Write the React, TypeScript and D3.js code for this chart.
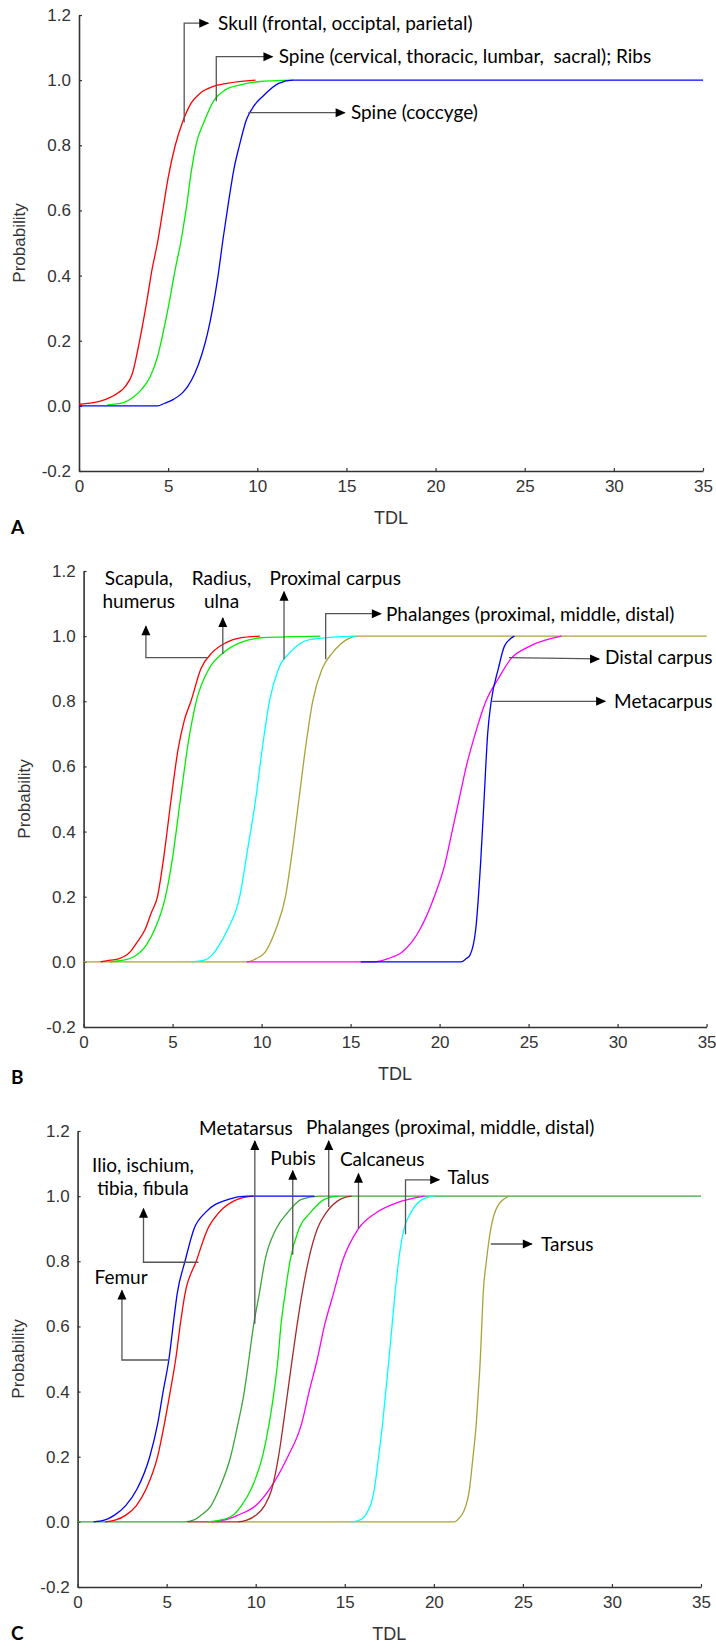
import React, { useRef, useEffect } from 'react';
import * as d3 from 'd3';

type Pt = [number, number];

// ---- Panel A (axial skeleton) ----
const skullA: Pt[] = [[0,0.005],[0.8,0.01],[1.5,0.02],[2.2,0.04],[2.6,0.06],[3.0,0.1],[3.4,0.2],[3.8,0.32],[4.1,0.42],[4.4,0.5],[4.7,0.6],[5.0,0.7],[5.4,0.8],[5.8,0.87],[6.3,0.93],[6.8,0.96],[7.5,0.98],[8.3,0.99],[9.9,1.0]];
const spineA: Pt[] = [[1.6,0.003],[2.5,0.01],[3.0,0.025],[3.5,0.05],[4.0,0.09],[4.4,0.15],[4.7,0.22],[5.0,0.3],[5.4,0.42],[5.7,0.5],[6.0,0.6],[6.3,0.72],[6.6,0.81],[7.0,0.87],[7.6,0.94],[8.2,0.97],[9.0,0.985],[10.0,0.995],[12.0,1.0]];
const coccyxA: Pt[] = [[0,0],[4.4,0],[4.8,0.008],[5.3,0.02],[5.8,0.04],[6.1,0.06],[6.5,0.1],[6.9,0.16],[7.2,0.22],[7.5,0.3],[7.8,0.4],[8.1,0.52],[8.4,0.63],[8.7,0.73],[9.0,0.8],[9.4,0.88],[9.8,0.92],[10.3,0.95],[11.2,0.99],[12.0,1.0],[35,1.0]];

// ---- Panel B (fore limb) ----
const scapulaB: Pt[] = [[0.95,0],[1.5,0.005],[2,0.01],[2.6,0.03],[3.0,0.06],[3.46,0.1],[3.8,0.15],[4.15,0.2],[4.5,0.32],[4.92,0.5],[5.3,0.65],[5.65,0.74],[6.03,0.8],[6.59,0.9],[7.23,0.95],[8.0,0.98],[8.8,0.995],[9.9,1.0]];
const radiusB: Pt[] = [[1.5,0],[2.2,0.005],[2.8,0.015],[3.5,0.05],[4.0,0.1],[4.6,0.2],[5.0,0.32],[5.44,0.5],[5.9,0.68],[6.33,0.8],[7.05,0.9],[7.87,0.95],[8.8,0.98],[10,0.995],[13.3,1.0]];
const proxCarpusB: Pt[] = [[6.08,0],[6.8,0.005],[7.2,0.02],[7.6,0.05],[8.1,0.1],[8.77,0.2],[9.2,0.34],[9.67,0.5],[10.05,0.66],[10.44,0.8],[10.95,0.9],[11.6,0.95],[12.75,0.99],[15.3,1.0]];
const phalangesB: Pt[] = [[0,0],[9.16,0],[9.7,0.01],[10.2,0.03],[10.8,0.1],[11.34,0.2],[11.7,0.33],[12.1,0.5],[12.5,0.67],[12.87,0.8],[13.4,0.9],[14.0,0.95],[14.8,0.99],[15.4,1.0],[35,1.0]];
const distalCarpusB: Pt[] = [[9.16,0],[16.3,0],[17.1,0.01],[17.9,0.03],[18.9,0.1],[19.7,0.2],[20.3,0.3],[20.7,0.4],[21.1,0.5],[21.5,0.6],[22.0,0.7],[22.6,0.8],[23.3,0.87],[24.0,0.93],[25.1,0.97],[26.85,1.0]];
const metacarpusB: Pt[] = [[15.57,0],[21.2,0],[21.5,0.01],[21.7,0.02],[22.03,0.1],[22.3,0.3],[22.5,0.5],[22.7,0.7],[22.9,0.8],[23.3,0.9],[23.65,0.97],[24.2,1.0]];

// ---- Panel C (hind limb / pelvis) ----
const metatarsusC: Pt[] = [[0,0],[6.02,0],[6.5,0.005],[6.92,0.02],[7.5,0.05],[7.94,0.1],[8.59,0.2],[9.0,0.3],[9.36,0.4],[9.62,0.5],[9.87,0.6],[10.2,0.7],[10.51,0.8],[11.15,0.9],[11.8,0.95],[12.57,0.99],[13.59,1.0],[35,1.0]];
const femurC: Pt[] = [[0.9,0],[1.5,0.005],[2.05,0.02],[2.7,0.05],[3.33,0.1],[4.05,0.2],[4.49,0.3],[4.8,0.4],[5.13,0.5],[5.4,0.62],[5.59,0.7],[6.03,0.8],[6.54,0.9],[7.18,0.95],[8.46,0.99],[9.49,1.0],[13.3,1.0]];
const ilioC: Pt[] = [[1.54,0],[2.1,0.005],[2.69,0.02],[3.3,0.05],[3.84,0.1],[4.49,0.2],[4.87,0.3],[5.2,0.4],[5.51,0.5],[5.8,0.62],[6.03,0.7],[6.66,0.8],[7.31,0.9],[7.94,0.95],[8.97,0.99],[9.87,1.0]];
const pubisC: Pt[] = [[7.31,0],[8.0,0.005],[8.72,0.02],[9.2,0.05],[9.74,0.1],[10.38,0.2],[10.75,0.3],[11.03,0.4],[11.25,0.5],[11.41,0.6],[11.65,0.7],[11.92,0.8],[12.43,0.9],[13.08,0.95],[13.85,0.99],[14.61,1.0]];
const phalangesC: Pt[] = [[6.15,0],[9.0,0],[9.5,0.005],[10.0,0.02],[10.5,0.05],[10.9,0.1],[11.28,0.2],[11.55,0.3],[11.8,0.4],[12.05,0.5],[12.31,0.6],[12.6,0.7],[12.95,0.8],[13.46,0.9],[13.97,0.95],[14.74,0.99],[15.38,1.0]];
const calcaneusC: Pt[] = [[7.5,0],[8.2,0.005],[8.97,0.02],[10.0,0.05],[10.77,0.1],[11.8,0.2],[12.57,0.3],[13.0,0.4],[13.46,0.5],[13.85,0.6],[14.36,0.7],[14.87,0.8],[15.77,0.9],[16.79,0.95],[17.95,0.98],[19.48,1.0]];
const talusC: Pt[] = [[15.38,0],[15.8,0.005],[16.15,0.02],[16.66,0.1],[16.9,0.2],[17.12,0.3],[17.3,0.4],[17.48,0.5],[17.65,0.6],[17.82,0.7],[18.02,0.8],[18.33,0.9],[18.72,0.95],[19.36,0.99],[20.0,1.0]];
const tarsusC: Pt[] = [[9.0,0],[21.15,0],[21.4,0.01],[21.66,0.03],[22.0,0.1],[22.2,0.2],[22.38,0.3],[22.5,0.4],[22.61,0.5],[22.69,0.6],[22.77,0.7],[22.95,0.8],[23.2,0.9],[23.59,0.97],[24.22,1.0]];

const xTicks = [0, 5, 10, 15, 20, 25, 30, 35];
const yTicks = [-0.2, 0, 0.2, 0.4, 0.6, 0.8, 1.0, 1.2];

interface Series { data: Pt[]; color: string }
interface Note {
  lines: string[];
  at: Pt;            // text position (data units), first line
  anchor: 'start' | 'middle';
  path: Pt[];        // leader line, last point is the arrow tip
}

const panels: {
  letter: string; top: number; left: number; right: number; letterDy: number;
  series: Series[]; notes: Note[];
}[] = [
  {
    letter: 'A', top: 15, left: 79, right: 703, letterDy: 56,
    series: [
      { data: skullA, color: '#ff0000' },
      { data: spineA, color: '#00ee00' },
      { data: coccyxA, color: '#0000ff' },
    ],
    notes: [
      { lines: ['Skull (frontal, occiptal, parietal)'], at: [7.8, 1.175], anchor: 'start', path: [[5.9, 0.87], [5.9, 1.175], [7.25, 1.175]] },
      { lines: ['Spine (cervical, thoracic, lumbar,  sacral); Ribs'], at: [11.2, 1.072], anchor: 'start', path: [[7.7, 0.935], [7.7, 1.072], [10.85, 1.072]] },
      { lines: ['Spine (coccyge)'], at: [15.25, 0.9], anchor: 'start', path: [[9.5, 0.9], [14.9, 0.9]] },
    ],
  },
  {
    letter: 'B', top: 571, left: 83.6, right: 706.6, letterDy: 50,
    series: [
      { data: phalangesB, color: '#aaa238' },
      { data: scapulaB, color: '#ff0000' },
      { data: radiusB, color: '#00ee00' },
      { data: proxCarpusB, color: '#00ffff' },
      { data: distalCarpusB, color: '#ff00ff' },
      { data: metacarpusB, color: '#0000ff' },
    ],
    notes: [
      { lines: ['Scapula,', 'humerus'], at: [3.1, 1.177], anchor: 'middle', path: [[6.98, 0.934], [3.5, 0.934], [3.5, 1.03]] },
      { lines: ['Radius,', 'ulna'], at: [7.75, 1.177], anchor: 'middle', path: [[7.82, 0.945], [7.82, 1.056]] },
      { lines: ['Proximal carpus'], at: [10.44, 1.177], anchor: 'start', path: [[11.26, 0.929], [11.26, 1.136]] },
      { lines: ['Phalanges (proximal, middle, distal)'], at: [16.99, 1.068], anchor: 'start', path: [[13.6, 0.929], [13.6, 1.069], [16.7, 1.069]] },
      { lines: ['Distal carpus'], at: [29.29, 0.935], anchor: 'start', path: [[23.9, 0.934], [28.96, 0.93]] },
      { lines: ['Metacarpus'], at: [29.8, 0.8], anchor: 'start', path: [[22.95, 0.8], [29.3, 0.8]] },
    ],
  },
  {
    letter: 'C', top: 1131, left: 77.6, right: 701, letterDy: 46,
    series: [
      { data: metatarsusC, color: '#3aa53a' },
      { data: tarsusC, color: '#aaa238' },
      { data: calcaneusC, color: '#ff00ff' },
      { data: phalangesC, color: '#a52a2a' },
      { data: pubisC, color: '#00ee00' },
      { data: talusC, color: '#00ffff' },
      { data: ilioC, color: '#ff0000' },
      { data: femurC, color: '#0000ff' },
    ],
    notes: [
      { lines: ['Ilio, ischium,', 'tibia, fibula'], at: [3.67, 1.095], anchor: 'middle', path: [[6.79, 0.797], [3.7, 0.797], [3.7, 0.961]] },
      { lines: ['Femur'], at: [2.44, 0.752], anchor: 'middle', path: [[5.13, 0.497], [2.49, 0.497], [2.49, 0.71]] },
      { lines: ['Metatarsus'], at: [9.45, 1.208], anchor: 'middle', path: [[9.95, 0.608], [9.95, 1.169]] },
      { lines: ['Phalanges (proximal, middle, distal)'], at: [12.82, 1.21], anchor: 'start', path: [[14.1, 0.967], [14.1, 1.169]] },
      { lines: ['Pubis'], at: [12.09, 1.117], anchor: 'middle', path: [[12.08, 0.82], [12.08, 1.078]] },
      { lines: ['Calcaneus'], at: [17.1, 1.114], anchor: 'middle', path: [[15.77, 0.9], [15.77, 1.069]] },
      { lines: ['Talus'], at: [20.77, 1.058], anchor: 'start', path: [[18.41, 0.883], [18.41, 1.05], [20.3, 1.05]] },
      { lines: ['Tarsus'], at: [26.02, 0.853], anchor: 'start', path: [[23.2, 0.853], [25.5, 0.853]] },
    ],
  },
];

const W = 716;
const H = 1648;
const plotH = 456;
const axisFont = '"Liberation Sans", Arial, sans-serif';
const noteFont = 'Lato, "Open Sans", sans-serif';

export default function App() {
  const svgRef = useRef<SVGSVGElement>(null);

  useEffect(() => {
    if (!svgRef.current) return;
    const svg = d3.select(svgRef.current);
    svg.selectAll('*').remove();

    svg.append('rect').attr('width', W).attr('height', H).attr('fill', '#fff');

    panels.forEach(p => {
      const x = d3.scaleLinear().domain([0, 35]).range([p.left, p.right]);
      const y = d3.scaleLinear().domain([-0.2, 1.2]).range([p.top + plotH, p.top]);
      const g = svg.append('g');

      // axes
      const yAxis = d3.axisLeft(y)
        .tickValues(yTicks)
        .tickSize(-3)
        .tickSizeOuter(0)
        .tickPadding(8)
        .tickFormat(d => (+d).toFixed(1));
      const yg = g.append('g').attr('transform', `translate(${p.left},0)`).call(yAxis);

      const xAxis = d3.axisBottom(x)
        .tickValues(xTicks)
        .tickSize(-3)
        .tickSizeOuter(0)
        .tickPadding(9);
      const xg = g.append('g').attr('transform', `translate(0,${p.top + plotH})`).call(xAxis);

      [yg, xg].forEach(ax => {
        ax.attr('font-family', axisFont).attr('font-size', 17);
        ax.selectAll('path').attr('stroke', '#333').attr('stroke-width', 1.6);
        ax.selectAll('line').attr('stroke', '#333').attr('stroke-width', 1.2);
        ax.selectAll('text').attr('fill', '#333');
      });

      g.append('text')
        .attr('transform', `translate(${p.left - 60},${p.top + plotH / 2}) rotate(-90)`)
        .attr('text-anchor', 'middle')
        .attr('dy', '0.35em')
        .attr('font-family', axisFont)
        .attr('font-size', 17)
        .attr('fill', '#333')
        .text('Probability');

      g.append('text')
        .attr('x', (p.left + p.right) / 2)
        .attr('y', p.top + plotH + 53)
        .attr('text-anchor', 'middle')
        .attr('font-family', axisFont)
        .attr('font-size', 18)
        .attr('fill', '#333')
        .text('TDL');

      g.append('text')
        .attr('x', 11)
        .attr('y', p.top + plotH + p.letterDy + 7)
        .attr('font-family', noteFont)
        .attr('font-weight', 700)
        .attr('font-size', 19)
        .attr('fill', '#000')
        .text(p.letter);

      // curves
      const curve = d3.line<Pt>().x(d => x(d[0])).y(d => y(d[1])).curve(d3.curveMonotoneX);
      const line = d3.line<Pt>().x(d => x(d[0])).y(d => y(d[1]));
      p.series.forEach(s => {
        g.append('path')
          .datum(s.data)
          .attr('d', curve)
          .attr('fill', 'none')
          .attr('stroke', s.color)
          .attr('stroke-width', 1.3);
      });

      // annotations
      p.notes.forEach(n => {
        g.append('path')
          .datum(n.path)
          .attr('d', line)
          .attr('fill', 'none')
          .attr('stroke', '#555')
          .attr('stroke-width', 1.3);

        const tip = n.path[n.path.length - 1];
        const prev = n.path[n.path.length - 2];
        const tx = x(tip[0]);
        const ty = y(tip[1]);
        const up = Math.abs(x(prev[0]) - tx) < 1;
        const head = up
          ? `M${tx},${ty - 1} L${tx - 4.5},${ty + 9} L${tx + 4.5},${ty + 9} Z`
          : `M${tx + 1},${ty} L${tx - 9},${ty - 4.5} L${tx - 9},${ty + 4.5} Z`;
        g.append('path').attr('d', head).attr('fill', '#000');

        n.lines.forEach((t, i) => {
          g.append('text')
            .attr('x', x(n.at[0]))
            .attr('y', y(n.at[1]) + i * 23)
            .attr('dy', '0.35em')
            .attr('text-anchor', n.anchor)
            .attr('font-family', noteFont)
            .attr('font-size', 19)
            .attr('fill', '#000')
            .style('white-space', 'pre')
            .text(t);
        });
      });
    });
  }, []);

  return (
    <div style={{ position: 'absolute', left: 0, top: 0 }}>
      <svg ref={svgRef} width={W} height={H} style={{ display: 'block' }} />
    </div>
  );
}
